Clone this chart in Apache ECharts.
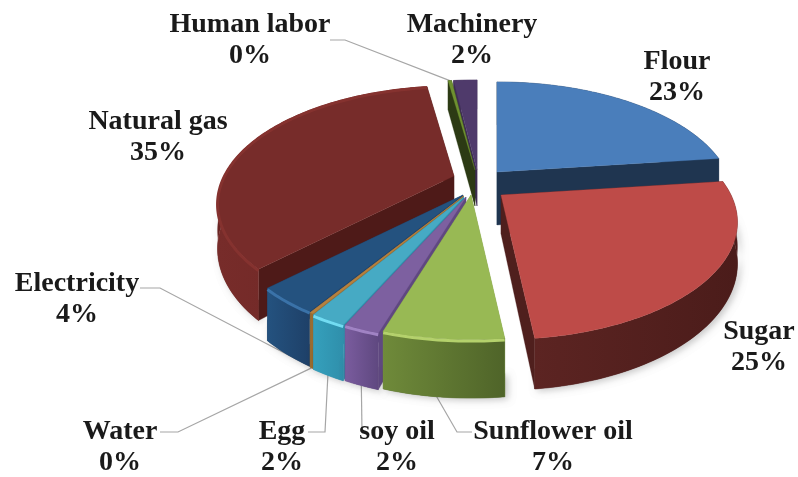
<!DOCTYPE html>
<html><head><meta charset="utf-8">
<style>html,body{margin:0;padding:0;background:#fff}#c{width:798px;height:477px;filter:blur(0.55px)}</style>
<script src="https://cdn.jsdelivr.net/npm/echarts@6/dist/echarts.min.js"></script>
</head><body><div id="c"></div>
<script>
const categories = ['Flour','Sugar','Sunflower oil','soy oil','Egg','Water','Electricity','Natural gas','Human labor','Machinery'];
const values = [23,25.2,6.6,2,2,0.2,3.6,35.1,0.3,2];

// layout and style, per slice
const tips = [[497,172],[501,195],[471,195],[466,197],[464,197],[463.5,196],[463,195],[454,176],[475,170],[477,170]];
const depths = [53,39,45,44,44,44,44,43,36,36];
const topColors = ['#4a7ebb','#be4b48','#98b954','#7d60a0','#46aac4','#b5813f','#24527f','#772c2a','#6e9030','#4f3a6b'];
const wallColors = [['#1f3550','#1f3550'],['#5c2422','#4b1c1a'],['#6f8a3a','#4f6429'],['#7a5c9e','#5f4880'],['#35a0bc','#2f8fab'],['#9a6c30','#9a6c30'],['#24527f','#1e4068'],['#772c2a','#6a2422'],['#2c3a14','#2c3a14'],['#3d2c54','#3d2c54']];
const faceColors = ['#1f3550','#4f1f1d','#7b9a42','#5f4880','#2f8fab','#9a6c30','#1e4068','#4e1a18','#2c3a14','#3d2c54'];
const rimColors = [null,null,'#b4d16c','#a083c4','#72dcf2',null,'#3a72a8','#85322f',null,null];
const drawOrder = [9,8,0,7,6,5,4,3,2,1];
const labelPos = [[677,62],[759,332],[553,432],[397,432],[282,432],[120,432],[77,284],[158,122],[250,25],[472,25]];
const leaders = {
  2:{t:0.55,d:1,via:[[457,432],[472,432]]},
  3:{t:0.5,d:1,via:[[362,432]]},
  4:{t:0.5,d:1,via:[[325,432],[308,432]]},
  5:{t:0.5,d:1,via:[[178,432],[160,432]]},
  6:{t:0.0,d:1,via:[[160,288],[140,288]]},
  8:{t:0.5,d:0,via:[[345,40],[330,40]]}
};

const R = 230, K = 111, P = 0.232;
const total = values.reduce((a,b)=>a+b,0);
const starts = []; let acc = 0;
values.forEach(v=>{starts.push(acc/total*Math.PI*2); acc+=v;});

function pt(tip,a,r,dz){
  const X=Math.sin(a)*r, Y=-Math.cos(a)*r, s=1/(1-P*Y);
  return [tip[0]+X*R*s, tip[1]+Y*K*s+dz*s];
}
function arc(tip,a0,a1,dz){
  const n=Math.max(2,Math.ceil((a1-a0)/(Math.PI/180))), o=[];
  for(let i=0;i<=n;i++) o.push(pt(tip,a0+(a1-a0)*i/n,1,dz));
  return o;
}
function poly(points,fill,z2,extra){
  return {type:'polygon',shape:{points},style:Object.assign({fill,stroke:fill,lineWidth:0.3},extra||{}),z2,silent:true};
}
function renderItem(params,api){
  const i=params.dataIndex, v=api.value(0);
  const a0=starts[i], a1=a0+v/total*Math.PI*2, tip=tips[i], d=depths[i];
  const z=drawOrder.indexOf(i)*10+1;
  const kids=[];
  const grad=new echarts.graphic.LinearGradient(0,0,1,0,[{offset:0,color:wallColors[i][0]},{offset:1,color:wallColors[i][1]}]);
  const tb=pt(tip,0,0,d), e0=pt(tip,a0,1,0), e0b=pt(tip,a0,1,d), e1=pt(tip,a1,1,0), e1b=pt(tip,a1,1,d);
  const f0=[tip,e0,e0b,tb], f1=[tip,e1,e1b,tb];
  const backFirst=(e0[1]<e1[1])?[f0,f1]:[f1,f0];
  // soft shadow only under the part of the wall that faces the viewer
  const sa=Math.max(a0,Math.PI/2), sb=Math.min(a1,Math.PI*1.5);
  if(sb>sa && i!==8 && i!==9 && i!==0){
    kids.push(poly(arc(tip,sa,sb,d*0.6).concat(arc(tip,sa,sb,d).reverse()),wallColors[i][1],z-1,{shadowBlur:7,shadowColor:'rgba(0,0,0,0.22)',shadowOffsetX:3,shadowOffsetY:2}));
  }
  kids.push(poly(backFirst[0],faceColors[i],z));
  kids.push(poly(backFirst[1],faceColors[i],z+1));
  kids.push(poly(arc(tip,a0,a1,0).concat(arc(tip,a0,a1,d).reverse()),grad,z+2));
  kids.push(poly([tip].concat(arc(tip,a0,a1,0)),topColors[i],z+3));
  if(rimColors[i]) kids.push({type:'polyline',shape:{points:arc(tip,a0,a1,1.2)},style:{stroke:rimColors[i],lineWidth:3,fill:null},z2:z+4,silent:true});
  // label
  const [lx,ly]=labelPos[i];
  const font='bold 28px "Liberation Serif"';
  kids.push({type:'text',style:{text:categories[i],x:lx,y:ly,font,fill:'#1a1a1a',textAlign:'center',textVerticalAlign:'middle'},z2:300,silent:true});
  kids.push({type:'text',style:{text:Math.round(v)+'%',x:lx,y:ly+31,font,fill:'#1a1a1a',textAlign:'center',textVerticalAlign:'middle'},z2:300,silent:true});
  // leader
  const l=leaders[i];
  if(l){
    const a=a0+(a1-a0)*l.t;
    kids.push({type:'polyline',shape:{points:[pt(tip,a,1,l.d*d)].concat(l.via)},style:{stroke:'#a6a6a6',lineWidth:1.2,fill:null},z2:0,silent:true});
  }
  return {type:'group',children:kids};
}
const chart=echarts.init(document.getElementById('c'),null,{renderer:'canvas'});
chart.setOption({
  animation:false,
  backgroundColor:'#fff',
  series:[{type:'custom',coordinateSystem:'none',renderItem,
    data:categories.map((name,i)=>({name,value:[values[i]]})),
    encode:{value:0}}]
});
</script></body></html>
